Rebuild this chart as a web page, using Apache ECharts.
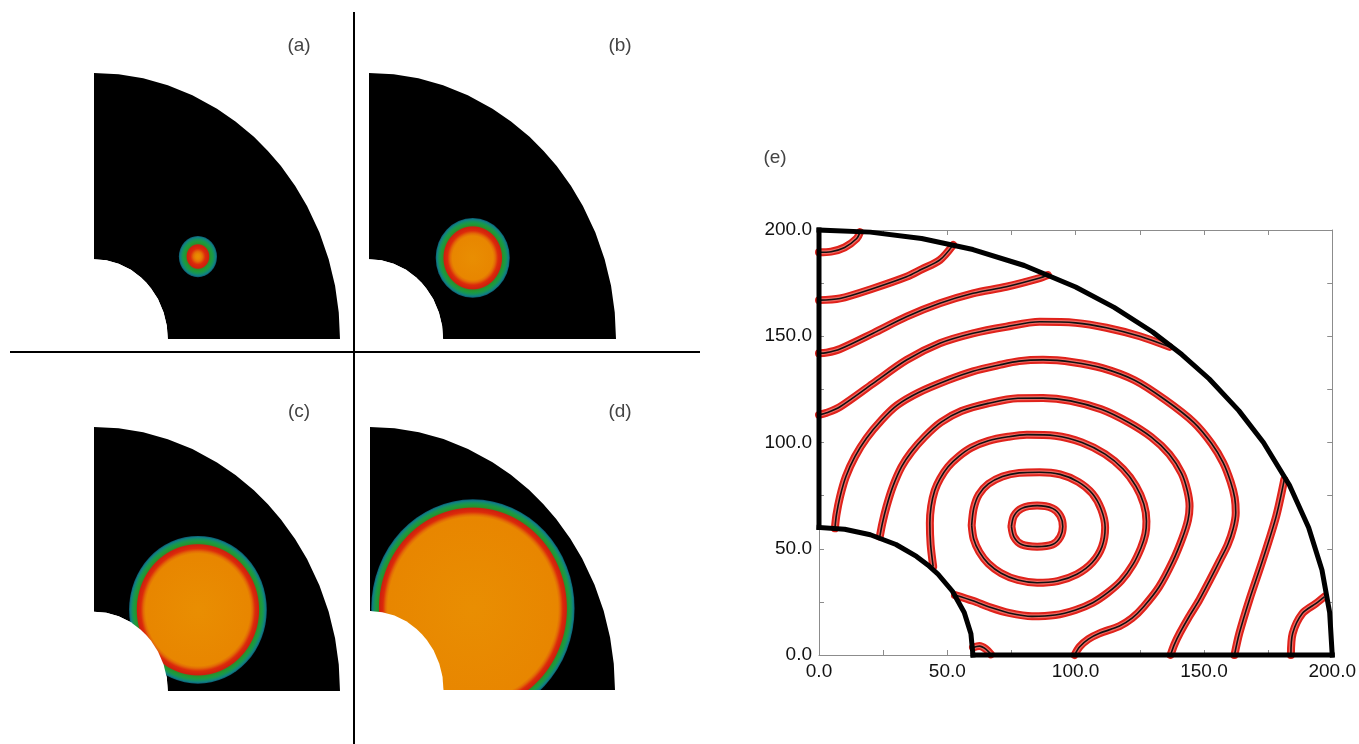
<!DOCTYPE html>
<html><head><meta charset="utf-8">
<script src="https://cdn.jsdelivr.net/npm/echarts@6/dist/echarts.min.js"></script>
<style>html,body{margin:0;padding:0;background:#fff}#c{width:1359px;height:744px}</style>
</head><body><div id="c"></div>
<script>
// ---------------- data ----------------
const panelLabels = ['(a)', '(b)', '(c)', '(d)'];
const panelELabel = '(e)';
// front centre and outer radius (domain units) for panels a-d
const frontCX = [84.5, 84, 84.5, 84];
const frontCY = [62, 61, 61.5, 62];
const frontR  = [15.5, 30, 56, 83];
// domain boundary (outer radius 200, inner radius 60)
const outerArc = [[0,200],[20,199],[40,196],[60,190.8],[80,183.3],[100,173.2],[115,163.6],[130,152],[141.4,141.4],[152,130],[163.6,115],[173.2,100],[183.3,80],[190.8,60],[196,40],[199,20],[200,0]];
const innerArc = [[0,60],[10,59.2],[20,56.6],[30,52],[38,46.4],[42.4,42.4],[46.4,38],[52,30],[56.6,20],[59.2,10],[60,0]];
const bottomEdge = [[60,0],[200,0]];
const leftEdge = [[0,60],[0,200]];
// panel (e) axis tick labels
const eTickLabels = [0, 50, 100, 150, 200];
// panel (e) front contours
const contour1 = [[75,60.5],[76,65.5],[79,69],[85,70.3],[91,69],[94,65.5],[95,60.5],[94,55.5],[91,52],[85,51],[79,52],[76,55.5],[75,60.5]];
const contour2 = [[59.5,61],[60.3,69],[62.3,75.5],[66,80.5],[71.5,84],[78,85.7],[86,86],[94,85],[101,81.5],[106.5,76],[110,68.5],[111.5,60],[110.3,51],[106.5,43.5],[100.5,38],[93,34.8],[85,34],[77.5,35.3],[71,38.5],[66,43],[62.5,48.5],[60.3,54.5],[59.5,61]];
const contour3 = [[53,28.2],[60,25.5],[67,22.3],[74,19.8],[83,18.2],[92,18.8],[100,21.2],[106.7,24.6],[112.5,29.3],[117.8,35],[122.3,42.5],[125.5,50.5],[127.2,57],[127.6,63],[126.6,71],[123.5,79.5],[118.5,87.5],[111.5,94.5],[102.5,100],[92,103.2],[81,103.7],[73.7,102.7],[66,100.8],[59.4,97.6],[54.5,93.5],[50.3,88.6],[47.2,83],[45.1,77.4],[43.7,70],[43.2,62],[43.5,52],[44.5,41.6]];
const contour4 = [[99.6,0],[101.6,3.9],[105,7.5],[109.3,10.2],[117.1,13.6],[122,17.3],[126.5,22.7],[132.5,32],[137.9,44.2],[141.6,55],[143.8,63.5],[144.4,70],[143.5,77.5],[141.3,85.5],[136.5,94.5],[129.5,102.5],[120.5,109.5],[110,115.6],[98,119.6],[87.3,120.9],[77.5,120.8],[65.9,118.4],[55.5,114.8],[47.5,109.5],[41.2,102.7],[36,95.5],[32.2,88.6],[28.7,79],[26.3,69.8],[24.7,62],[23.7,55.7]];
const contour5 = [[137,0],[138.5,5],[140.7,10.5],[144.2,18],[148.2,25.9],[152.2,35],[156,44],[159.3,52],[161.4,59.5],[162.4,67],[162,74],[160.4,81.5],[157.5,90.5],[153,99.5],[146,109.5],[135,120],[123,129.3],[110.5,135],[99,137.8],[87.3,138.9],[78,138.3],[70.4,136.5],[60,133.5],[50.3,129.4],[38.8,123.5],[30.4,117.5],[24.4,110.6],[18.5,102],[14,93.3],[10.5,84],[8.2,74.5],[6.8,66],[6.2,59.6]];
const contour6a = [[161.9,0],[163.8,10.2],[167.7,25.9],[172.9,44.7],[178.1,65],[181.3,82.4]];
const contour6b = [[136.6,145],[125,150],[112,154],[100,156.3],[86,156.8],[73,154.5],[60,151.4],[47.1,146.7],[34.1,138.8],[21.1,127.8],[8.2,116.8],[3,114],[0,113]];
const contour7a = [[183.9,0],[184.6,10.2],[188.4,19.6],[193.7,24.3],[196.9,27.4]];
const contour7b = [[89.2,178.8],[86,177.4],[73,173.3],[60,170.2],[47.1,165.5],[34.1,159.2],[21.1,151.4],[8.2,144],[3,142.3],[0,142]];
const contour8 = [[52.3,193],[47.1,185.9],[40,181.5],[34.1,178],[21.1,172.5],[8.2,167.8],[0,167]];
const contour9 = [[16,199],[14.7,196],[10,191.8],[4.7,189.8],[0,189.5]];
const contour10 = [[60,3.5],[62.5,4.2],[65,2.8],[67,0.3]];
const contourList = [contour1, contour2, contour3, contour4, contour5, contour6a, contour6b, contour7a, contour7b, contour8, contour9, contour10];

// ---------------- layout / style ----------------
const panelGrids = [
  {left: 94, top: 73, width: 246, height: 266},
  {left: 369, top: 73, width: 247, height: 266},
  {left: 94, top: 427, width: 246, height: 264},
  {left: 370, top: 427, width: 245, height: 263}
];
const eGrid = {left: 819, top: 230, width: 514, height: 425};
const FONT = '"Liberation Sans", Arial, sans-serif';

// band colours by distance from the outer edge of the front (domain units)
const bandStyle = [[0,'#0b5a72'],[1.2,'#118083'],[2.6,'#15935c'],[4.2,'#1d9b3b'],[5.9,'#2b8e2c'],[6.7,'#cd1f0e'],[9.5,'#dc2a0b'],[11.8,'#e36c06'],[13.5,'#e88600']];
function frontStops(R) {
  const stops = [];
  for (let i = bandStyle.length - 1; i >= 0; i--) {
    const d = bandStyle[i][0];
    if (d < R) stops.push({offset: 1 - d / R, color: bandStyle[i][1]});
  }
  stops.unshift({offset: 0, color: '#e98e02'});
  return stops;
}

function polyItem(api, pts, fill) {
  return {type: 'polygon', shape: {points: pts.map(p => api.coord(p))}, style: {fill: fill}};
}

const grid = panelGrids.concat([eGrid]);
const xAxis = [], yAxis = [], series = [];
for (let i = 0; i < 4; i++) {
  xAxis.push({gridIndex: i, type: 'value', min: 0, max: 200, show: false});
  yAxis.push({gridIndex: i, type: 'value', min: 0, max: 200, show: false});
  const domainPts = outerArc.concat(innerArc.slice().reverse());
  series.push({
    type: 'custom', xAxisIndex: i, yAxisIndex: i, clip: true, silent: true, z: 1,
    data: [[0, 0]],
    renderItem: (params, api) => polyItem(api, domainPts, '#000')
  });
  series.push({
    type: 'custom', xAxisIndex: i, yAxisIndex: i, clip: true, silent: true, z: 2,
    data: [[frontCX[i], frontCY[i], frontR[i]]],
    encode: {x: 0, y: 1},
    renderItem: (params, api) => {
      const c = api.coord([api.value(0), api.value(1)]);
      const R = api.value(2);
      const s = api.size([R, R]);
      return {
        type: 'circle', x: c[0], y: c[1], scaleX: s[0] / s[1], scaleY: 1,
        shape: {cx: 0, cy: 0, r: s[1]},
        style: {fill: new echarts.graphic.RadialGradient(0.5, 0.5, 0.5, frontStops(R))}
      };
    }
  });
  const holePts = [[0, 0]].concat(innerArc);
  series.push({
    type: 'custom', xAxisIndex: i, yAxisIndex: i, clip: true, silent: true, z: 3,
    data: [[0, 0]],
    renderItem: (params, api) => polyItem(api, holePts, '#fff')
  });
}

// panel (e) axes
const axisCol = '#8c8c8c';
const lblFmt = v => eTickLabels.indexOf(v) >= 0 ? v.toFixed(1) : '';
function eAxis(pos, labels) {
  return {gridIndex: 4, type: 'value', min: 0, max: 200, interval: 25, position: pos,
    axisLine: {onZero: false, lineStyle: {color: axisCol, width: 1}},
    axisTick: {inside: true, length: 5, lineStyle: {color: axisCol}},
    axisLabel: labels ? {formatter: lblFmt, color: '#111', fontSize: 19, fontFamily: FONT, margin: 7} : {show: false},
    splitLine: {show: false}};
}
xAxis.push(eAxis('bottom', true), eAxis('top', false));
yAxis.push(eAxis('left', true), eAxis('right', false));

// contours: red circle band + lighter interior + black line
contourList.forEach(c => {
  const base = {type: 'line', xAxisIndex: 4, yAxisIndex: 4, data: c, showSymbol: false, smooth: 0.3, silent: true, clip: false};
  series.push(Object.assign({}, base, {z: 4, lineStyle: {color: '#e0221b', width: 8, cap: 'round', join: 'round'}}));
  series.push(Object.assign({}, base, {z: 5, lineStyle: {color: '#ec6a62', width: 4, cap: 'round', join: 'round'}}));
  series.push(Object.assign({}, base, {z: 6, lineStyle: {color: '#111', width: 1.6}}));
});
// boundary
[outerArc, innerArc, bottomEdge, leftEdge].forEach(b => {
  series.push({type: 'line', xAxisIndex: 4, yAxisIndex: 4, data: b, showSymbol: false, silent: true, clip: false, z: 7,
    lineStyle: {color: '#000', width: 5, cap: 'square', join: 'round'}});
});

const labelPos = [[299, 46], [620, 46], [299, 412], [620, 412]];
const graphic = [
  {type: 'line', shape: {x1: 354, y1: 12, x2: 354, y2: 744}, style: {stroke: '#000', lineWidth: 2}, z: 10},
  {type: 'line', shape: {x1: 10, y1: 352, x2: 700, y2: 352}, style: {stroke: '#000', lineWidth: 2}, z: 10}
];
panelLabels.forEach((t, i) => graphic.push({type: 'text', x: labelPos[i][0], y: labelPos[i][1], z: 10,
  style: {text: t, font: '19px ' + FONT, fill: '#444', textAlign: 'center', textVerticalAlign: 'middle'}}));
graphic.push({type: 'text', x: 775, y: 158, z: 10,
  style: {text: panelELabel, font: '19px ' + FONT, fill: '#444', textAlign: 'center', textVerticalAlign: 'middle'}});

const chart = echarts.init(document.getElementById('c'), null, {renderer: 'canvas'});
chart.setOption({animation: false, backgroundColor: '#fff', grid, xAxis, yAxis, series, graphic});
</script></body></html>
